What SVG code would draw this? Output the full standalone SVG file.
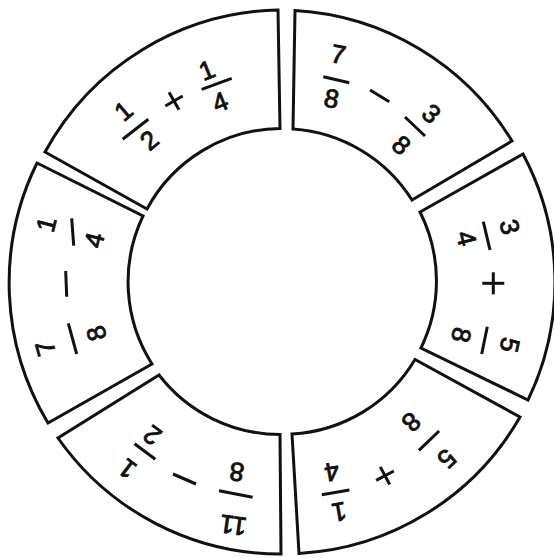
<svg xmlns="http://www.w3.org/2000/svg" width="554" height="558" viewBox="0 0 554 558">
<style>
.seg{fill:#fff;stroke:#111;stroke-width:3;stroke-linejoin:miter}
.d{font-family:"Liberation Sans",Arial,sans-serif;font-size:26px;fill:#111;text-anchor:middle;stroke:#111;stroke-width:0.9}
.b{stroke:#111;stroke-width:3;fill:none}
</style>
<rect width="554" height="558" fill="#fff"/>
<g id="seg-top-left">
<path class="seg" d="M45,152 A272,272 0 0 1 278,10 L280,128.5 A153,153 0 0 0 147,209 Z"/>
<text class="d" transform="translate(123.3,110.7) rotate(-40)" y="9.3">1</text>
<line class="b" x1="122.7" y1="139.3" x2="148.3" y2="119.3"/>
<text class="d" transform="translate(149,140) rotate(-40)" y="9.3">2</text>
<g transform="translate(174,101) rotate(-30)"><line class="b" x1="-10" y1="0" x2="10" y2="0"/><line class="b" x1="0" y1="-10" x2="0" y2="10"/></g>
<text class="d" transform="translate(206.7,70) rotate(-22)" y="9.3">1</text>
<line class="b" x1="201.7" y1="89.3" x2="231.7" y2="78.3"/>
<text class="d" transform="translate(220,101.7) rotate(-22)" y="9.3">4</text>
</g>
<g id="seg-top-right">
<path class="seg" d="M295,10.5 A272,272 0 0 1 512,141 L412,200 A153,153 0 0 0 293,129 Z"/>
<text class="d" transform="translate(338.3,54) rotate(11)" y="9.3">7</text>
<line class="b" x1="323.3" y1="76.7" x2="349.3" y2="82.7"/>
<text class="d" transform="translate(331.7,98.3) rotate(11)" y="9.3">8</text>
<line class="b" x1="370" y1="90" x2="389.3" y2="101.7"/>
<text class="d" transform="translate(431.7,113.3) rotate(42)" y="9.3">3</text>
<line class="b" x1="405" y1="117" x2="425" y2="136"/>
<text class="d" transform="translate(401.7,145) rotate(42)" y="9.3">8</text>
</g>
<g id="seg-right">
<path class="seg" d="M523,154 A272,272 0 0 1 528,400 L421,348 A153,153 0 0 0 420,212 Z"/>
<text class="d" transform="translate(510,226.7) rotate(76)" y="9.3">3</text>
<line class="b" x1="483.3" y1="221.7" x2="490" y2="250"/>
<text class="d" transform="translate(466.7,238.3) rotate(76)" y="9.3">4</text>
<g transform="translate(493.3,283.3) rotate(90)"><line class="b" x1="-11" y1="0" x2="11" y2="0"/><line class="b" x1="0" y1="-11" x2="0" y2="11"/></g>
<text class="d" transform="translate(510,345) rotate(102)" y="9.3">5</text>
<line class="b" x1="487.3" y1="326.7" x2="481.7" y2="354"/>
<text class="d" transform="translate(461.7,335) rotate(102)" y="9.3">8</text>
</g>
<g id="seg-bottom-right">
<path class="seg" d="M520,417 A272,272 0 0 1 299,553.5 L292,434 A153,153 0 0 0 415,359.5 Z"/>
<text class="d" transform="translate(411.6,422.3) rotate(136)" y="9.3">8</text>
<line class="b" x1="418.9" y1="450.4" x2="439.1" y2="431"/>
<text class="d" transform="translate(447,459) rotate(136)" y="9.3">5</text>
<g transform="translate(385,475.7) rotate(152)"><line class="b" x1="-10" y1="0" x2="10" y2="0"/><line class="b" x1="0" y1="-10" x2="0" y2="10"/></g>
<text class="d" transform="translate(332,472.3) rotate(170)" y="9.3">4</text>
<line class="b" x1="321.8" y1="494.7" x2="349.4" y2="489.9"/>
<text class="d" transform="translate(339.2,512.3) rotate(170)" y="9.3">1</text>
</g>
<g id="seg-bottom-left">
<path class="seg" d="M281,554 A272,272 0 0 1 58,438 L159,375 A153,153 0 0 0 280,434.5 Z"/>
<text class="d" transform="translate(236.7,472.3) rotate(188)" y="9.3">8</text>
<line class="b" x1="219" y1="490.7" x2="252.6" y2="497.3"/>
<text class="d" transform="translate(233.2,525.7) rotate(188)" y="9.3">11</text>
<line class="b" x1="173" y1="474" x2="196" y2="484"/>
<text class="d" transform="translate(152,435.7) rotate(-143)" y="9.3">2</text>
<line class="b" x1="134.5" y1="443.7" x2="155.3" y2="459.3"/>
<text class="d" transform="translate(127.2,469) rotate(-143)" y="9.3">1</text>
</g>
<g id="seg-left">
<path class="seg" d="M37,163 L143,216 A153,153 0 0 0 152,364 L48,423 A272,272 0 0 1 37,163 Z"/>
<text class="d" transform="translate(46,224.3) rotate(-76)" y="9.3">1</text>
<line class="b" x1="71.7" y1="218.3" x2="73.7" y2="245.7"/>
<text class="d" transform="translate(94,240) rotate(-76)" y="9.3">4</text>
<line class="b" x1="65.7" y1="271" x2="66.7" y2="296.7"/>
<text class="d" transform="translate(45,348.3) rotate(-106)" y="9.3">7</text>
<line class="b" x1="68.3" y1="323.3" x2="76.7" y2="354"/>
<text class="d" transform="translate(96,333.3) rotate(-106)" y="9.3">8</text>
</g>
</svg>
